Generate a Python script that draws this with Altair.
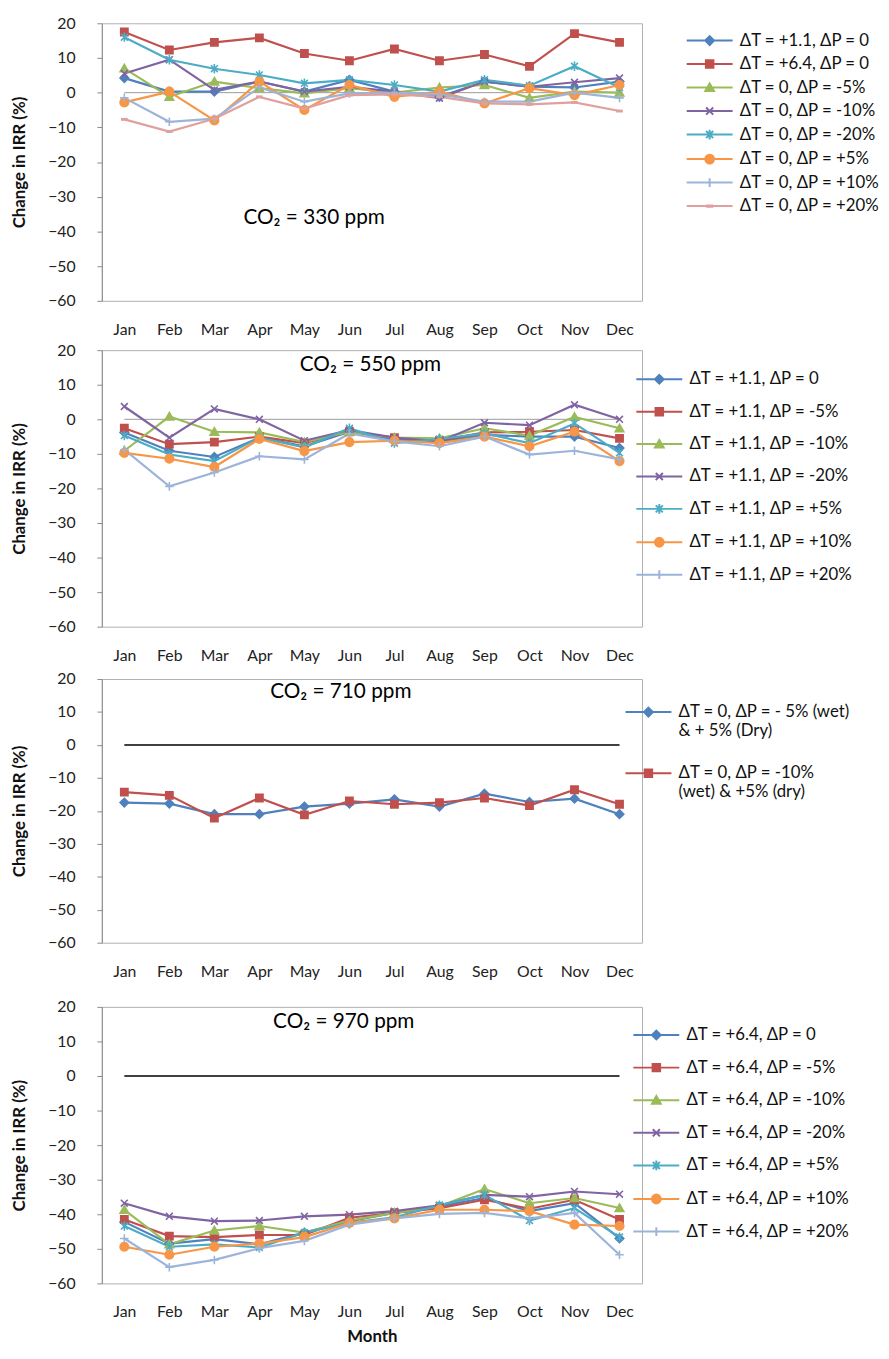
import altair as alt
import pandas as pd

months = ["Jan", "Feb", "Mar", "Apr", "May", "Jun", "Jul", "Aug", "Sep", "Oct", "Nov", "Dec"]

# ---- Panel 1: CO2 = 330 ppm ----
p330_names = ["ΔT = +1.1, ΔP = 0", "ΔT = +6.4, ΔP = 0", "ΔT = 0, ΔP = -5%", "ΔT = 0, ΔP = -10%",
              "ΔT = 0, ΔP = -20%", "ΔT = 0, ΔP = +5%", "ΔT = 0, ΔP = +10%", "ΔT = 0, ΔP = +20%"]
p330_t11_p0 = [4.2, 0.3, 0.3, 3.2, 0.3, 3.7, 0.3, -1.2, 3.2, 1.7, 1.5, 3.2]
p330_t64_p0 = [17.5, 12.3, 14.5, 15.8, 11.3, 9.2, 12.6, 9.2, 11.0, 7.6, 17.0, 14.5]
p330_t0_m5 = [7.0, -1.2, 3.2, 1.3, -0.2, 1.3, 0.0, 1.5, 2.2, -1.5, 0.3, 0.0]
p330_t0_m10 = [5.5, 9.5, 0.8, 3.2, 0.3, 1.7, 0.3, -1.6, 3.2, 1.7, 3.0, 4.2]
p330_t0_m20 = [16.0, 9.5, 6.9, 5.1, 2.7, 3.7, 2.2, 0.3, 3.7, 2.0, 7.6, 1.5]
p330_t0_p5 = [-2.8, 0.3, -8.0, 3.2, -5.0, 2.2, -1.2, 0.3, -3.1, 1.3, -0.7, 2.2]
p330_t0_p10 = [-1.5, -8.4, -7.5, 1.5, -2.6, -0.2, 0.0, -0.5, -2.6, -2.6, 0.0, -1.5]
p330_t0_p20 = [-7.7, -11.2, -7.5, -1.2, -4.6, -0.7, -0.5, -1.2, -3.1, -3.4, -2.8, -5.3]

# ---- Panel 2: CO2 = 550 ppm ----
p550_names = ["ΔT = +1.1, ΔP = 0", "ΔT = +1.1, ΔP = -5%", "ΔT = +1.1, ΔP = -10%", "ΔT = +1.1, ΔP = -20%",
              "ΔT = +1.1, ΔP = +5%", "ΔT = +1.1, ΔP = +10%", "ΔT = +1.1, ΔP = +20%"]
p550_p0 = [-3.8, -9.1, -10.9, -5.3, -7.8, -3.6, -5.9, -6.4, -4.5, -5.0, -5.0, -8.3]
p550_m5 = [-2.6, -7.2, -6.6, -5.0, -6.9, -3.6, -5.3, -6.2, -3.8, -3.6, -3.1, -5.5]
p550_m10 = [-9.1, 0.8, -3.6, -3.8, -6.6, -3.6, -5.3, -5.5, -2.6, -4.7, 0.7, -2.6]
p550_m20 = [3.7, -5.3, 3.0, 0.0, -6.2, -3.1, -5.3, -6.4, -1.0, -1.7, 4.2, 0.0]
p550_p5 = [-4.7, -10.2, -12.1, -5.3, -8.1, -2.6, -6.9, -5.7, -4.1, -6.9, -1.2, -9.7]
p550_p10 = [-9.7, -11.4, -13.8, -5.7, -9.2, -6.6, -6.2, -6.9, -5.0, -7.8, -3.6, -12.1]
p550_p20 = [-8.8, -19.4, -15.4, -10.7, -11.6, -4.1, -6.4, -7.8, -5.0, -10.2, -9.1, -11.6]

# ---- Panel 3: CO2 = 710 ppm ----
p710_names = ["ΔT = 0, ΔP = - 5% (wet)\n& + 5% (Dry)", "ΔT = 0, ΔP = -10%\n(wet) & +5% (dry)"]
p710_a = [-17.5, -17.8, -21.0, -21.0, -18.7, -17.8, -16.5, -18.7, -14.8, -17.3, -16.3, -21.0]
p710_b = [-14.3, -15.3, -22.2, -16.1, -21.2, -17.0, -18.0, -17.5, -16.1, -18.4, -13.6, -18.0]

# ---- Panel 4: CO2 = 970 ppm ----
p970_names = ["ΔT = +6.4, ΔP = 0", "ΔT = +6.4, ΔP = -5%", "ΔT = +6.4, ΔP = -10%", "ΔT = +6.4, ΔP = -20%",
              "ΔT = +6.4, ΔP = +5%", "ΔT = +6.4, ΔP = +10%", "ΔT = +6.4, ΔP = +20%"]
p970_p0 = [-42.2, -48.5, -47.2, -48.7, -45.3, -42.0, -39.6, -37.7, -35.3, -39.1, -36.8, -47.0]
p970_m5 = [-41.5, -46.3, -46.6, -46.0, -46.0, -41.0, -39.6, -38.2, -35.8, -38.4, -35.8, -41.5]
p970_m10 = [-38.7, -48.7, -44.7, -43.4, -45.3, -41.8, -39.6, -37.7, -32.7, -36.8, -35.3, -38.2]
p970_m20 = [-36.8, -40.6, -42.0, -41.8, -40.6, -40.1, -39.1, -37.4, -34.4, -34.9, -33.4, -34.2]
p970_p5 = [-43.4, -49.4, -48.7, -49.6, -45.3, -42.5, -40.9, -37.4, -34.4, -41.8, -38.2, -46.6]
p970_p10 = [-49.4, -51.7, -49.4, -48.5, -46.6, -42.5, -41.2, -38.7, -38.7, -39.1, -43.0, -43.4]
p970_p20 = [-47.0, -55.3, -53.2, -49.8, -47.7, -43.0, -41.2, -39.9, -39.6, -41.2, -39.6, -51.7]

# ---- styles ----
BLUE, RED, GREEN, PURPLE = "#4F81BD", "#C0504D", "#9BBB59", "#8064A2"
AQUA, ORANGE, LBLUE, PINK = "#4BACC6", "#F79646", "#9DB4DA", "#E0A09E"

M_DIAMOND = "M0,-1L1,0L0,1L-1,0Z"
M_SQUARE = "M-0.85,-0.85H0.85V0.85H-0.85Z"
M_TRI = "M0,-0.95L1,0.8H-1Z"
M_X = "M-0.8,-0.8L0.8,0.8M-0.8,0.8L0.8,-0.8"
M_STAR = "M-0.8,-0.8L0.8,0.8M-0.8,0.8L0.8,-0.8M0,-1.1V1.1"
M_CIRCLE = "M1,0A1,1 0 1,1 -1,0A1,1 0 1,1 1,0Z"
M_PLUS = "M-1,0H1M0,-1V1"
M_DASH = "M-0.6,-0.15H0.6V0.15H-0.6Z"
LINE = "M-5.2,0H5.2"

FONT = "Lato"
Y_VALUES = list(range(-60, 21, 10))


def panel(names, series, colors, shapes, co2, tx, ty, zero_color, zero_w, h,
          lx, ly, row_pad, x_title, label_expr=None):
    rows = []
    for name, vals in zip(names, series):
        for m, v in zip(months, vals):
            rows.append({"month": m, "series": name, "value": v})
    df = pd.DataFrame(rows)

    xscale = alt.Scale(type="point", domain=months, padding=0.5)
    yscale = alt.Scale(domain=[-60, 20], nice=False, zero=False)
    xaxis = alt.Axis(title=x_title, ticks=False, domain=False, labelAngle=0,
                     labelPadding=21, titlePadding=9)
    yaxis = alt.Axis(values=Y_VALUES, tickCount=9, labelOverlap=False,
                     title="Change in IRR (%)",
                     tickSize=5, labelPadding=22, titlePadding=19)
    x = alt.X("month:N", sort=months, scale=xscale, axis=xaxis)
    y = alt.Y("value:Q", scale=yscale, axis=yaxis)

    dom = alt.Scale(domain=names, range=colors)
    leg_kw = dict(title=None, orient="none", legendX=lx, legendY=ly, symbolSize=80,
                  symbolStrokeWidth=2, labelFont=FONT, labelFontSize=17, labelColor="#111",
                  labelOffset=22, rowPadding=row_pad, labelLimit=400, padding=0)
    if label_expr:
        leg_kw["labelExpr"] = label_expr
    leg = alt.Legend(**leg_kw)

    base = alt.Chart(df)
    zero_df = pd.DataFrame({"a": [months[0]], "b": [months[-1]], "v": [0]})
    zero = alt.Chart(zero_df).mark_rule(color=zero_color, strokeWidth=zero_w).encode(
        x=alt.X("a:N", scale=xscale, axis=xaxis), x2="b:N",
        y=alt.Y("v:Q", scale=yscale, axis=yaxis))

    lines = base.mark_line(strokeWidth=2.2).encode(
        x=x, y=y, color=alt.Color("series:N", scale=dom, legend=None))
    pts = base.mark_point(filled=True, opacity=1, size=75, strokeWidth=1.6).encode(
        x=x, y=y,
        fill=alt.Fill("series:N", scale=dom, legend=None),
        stroke=alt.Stroke("series:N", scale=dom, legend=None),
        shape=alt.Shape("series:N", scale=alt.Scale(domain=names, range=shapes), legend=None))
    legend_layer = base.transform_filter("false").mark_point(filled=True, opacity=1).encode(
        x=x, y=y,
        fill=alt.Fill("series:N", scale=dom, legend=leg),
        stroke=alt.Stroke("series:N", scale=dom, legend=leg),
        shape=alt.Shape("series:N", scale=alt.Scale(domain=names, range=[LINE + s for s in shapes]),
                        legend=leg))
    txt = alt.Chart(pd.DataFrame({"t": [co2]})).mark_text(
        fontSize=21, font=FONT, color="#000").encode(
        text="t:N", x=alt.value(tx), y=alt.value(ty))

    return alt.layer(zero, lines, pts, legend_layer, txt).resolve_scale(
        color="independent", fill="independent", stroke="independent", shape="independent"
    ).properties(width=547, height=h)


c1 = panel(p330_names,
           [p330_t11_p0, p330_t64_p0, p330_t0_m5, p330_t0_m10, p330_t0_m20, p330_t0_p5, p330_t0_p10, p330_t0_p20],
           [BLUE, RED, GREEN, PURPLE, AQUA, ORANGE, LBLUE, PINK],
           [M_DIAMOND, M_SQUARE, M_TRI, M_X, M_STAR, M_CIRCLE, M_PLUS, M_DASH],
           "CO₂ = 330 ppm", 215, 197, "#999999", 1, 281, 607, 9, 5.8, None)
c2 = panel(p550_names,
           [p550_p0, p550_m5, p550_m10, p550_m20, p550_p5, p550_p10, p550_p20],
           [BLUE, RED, GREEN, PURPLE, AQUA, ORANGE, LBLUE],
           [M_DIAMOND, M_SQUARE, M_TRI, M_X, M_STAR, M_CIRCLE, M_PLUS],
           "CO₂ = 550 ppm", 272, 15, "#999999", 1, 280, 556, 21, 14.8, None)
c3 = panel(p710_names, [p710_a, p710_b], [BLUE, RED], [M_DIAMOND, M_SQUARE],
           "CO₂ = 710 ppm", 242, 13, "#000000", 1.5, 267, 545, 25, 25, None,
           label_expr="split(datum.label, '\\n')")
c4 = panel(p970_names,
           [p970_p0, p970_m5, p970_m10, p970_m20, p970_p5, p970_p10, p970_p20],
           [BLUE, RED, GREEN, PURPLE, AQUA, ORANGE, LBLUE],
           [M_DIAMOND, M_SQUARE, M_TRI, M_X, M_STAR, M_CIRCLE, M_PLUS],
           "CO₂ = 970 ppm", 245, 15, "#000000", 1.5, 280, 553, 20, 15, "Month")

chart = alt.vconcat(
    alt.vconcat(c1, c2, spacing=3),
    alt.vconcat(c3, c4, spacing=18),
    spacing=6,
).properties(
    padding={"left": 2, "top": -2, "right": 0, "bottom": 0}
).configure_axis(
    labelFont=FONT, titleFont=FONT, labelFontSize=16, titleFontSize=17,
    titleFontWeight="bold", labelColor="#222", titleColor="#111",
    domainColor="#8a8a8a", tickColor="#8a8a8a", grid=False
).configure_view(stroke="#b0b0b0", strokeWidth=1)

chart.save("out.html", embed_options={"renderer": "svg", "actions": False})
